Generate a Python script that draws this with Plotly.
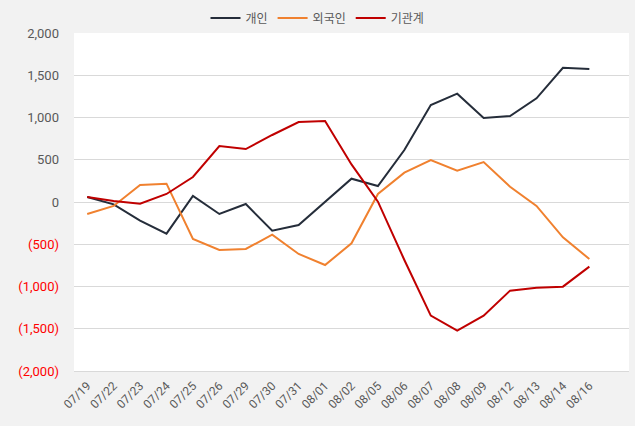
import plotly.graph_objects as go

dates = ["07/19", "07/22", "07/23", "07/24", "07/25", "07/26", "07/29", "07/30", "07/31", "08/01",
         "08/02", "08/05", "08/06", "08/07", "08/08", "08/09", "08/12", "08/13", "08/14", "08/16"]
individual = [59, -28, -221, -375, 71, -142, -24, -340, -272, 0,
              276, 189, 615, 1148, 1282, 994, 1018, 1227, 1589, 1574]
foreign = [-142, -47, 201, 217, -438, -568, -556, -387, -615, -746,
           -489, 95, 347, 497, 370, 473, 181, -47, -418, -675]
institution = [59, 12, -20, 95, 296, 663, 627, 793, 947, 959,
               445, 4, -686, -1345, -1523, -1345, -1049, -1014, -1002, -765]

tick_vals = [2000, 1500, 1000, 500, 0, -500, -1000, -1500, -2000]
tick_text = ["2,000", "1,500", "1,000", "500", "0",
             "<span style='color:#FF0000'>(500)</span>",
             "<span style='color:#FF0000'>(1,000)</span>",
             "<span style='color:#FF0000'>(1,500)</span>",
             "<span style='color:#FF0000'>(2,000)</span>"]

FONT = "Roboto, 'Noto Sans CJK KR', sans-serif"

fig = go.Figure()
x_idx = list(range(len(dates)))
for name, vals, color in [("개인", individual, "#252D3A"),
                          ("외국인", foreign, "#F0812F"),
                          ("기관계", institution, "#C00000")]:
    fig.add_trace(go.Scatter(x=x_idx, y=vals, mode="lines", name=name,
                             line=dict(color=color, width=2)))

fig.update_layout(
    width=635, height=426,
    paper_bgcolor="#F2F2F2", plot_bgcolor="#FFFFFF",
    margin=dict(l=74, r=6, t=33, b=55, autoexpand=False),
    font=dict(family=FONT, size=12, color="#595959"),
    showlegend=True,
    legend=dict(orientation="h", xref="container", x=0.5, xanchor="center",
                yref="container", y=(426 - 18) / 426, yanchor="middle",
                font=dict(size=12, color="#595959"), bgcolor="rgba(0,0,0,0)",
                itemwidth=30, tracegroupgap=0),
)
fig.update_xaxes(range=[-0.5, 20.5], tickmode="array", tickvals=x_idx, ticktext=dates,
                 tickangle=-45, showgrid=False, showline=True, linecolor="#D9D9D9",
                 linewidth=1, ticks="", zeroline=False, automargin=False,
                 ticklabelstandoff=2,
                 tickfont=dict(size=12, color="#595959"))
fig.update_yaxes(range=[-2000, 2000], tickmode="array", tickvals=tick_vals, ticktext=tick_text,
                 showgrid=True, gridcolor="#D9D9D9", gridwidth=1, zeroline=False,
                 showline=False, ticks="", automargin=False, ticklabelstandoff=14,
                 tickfont=dict(size=13, color="#595959"))

fig.write_html("out.html", config={"displayModeBar": False},
               post_script="document.body.style.margin='0';document.body.style.overflow='hidden';")
